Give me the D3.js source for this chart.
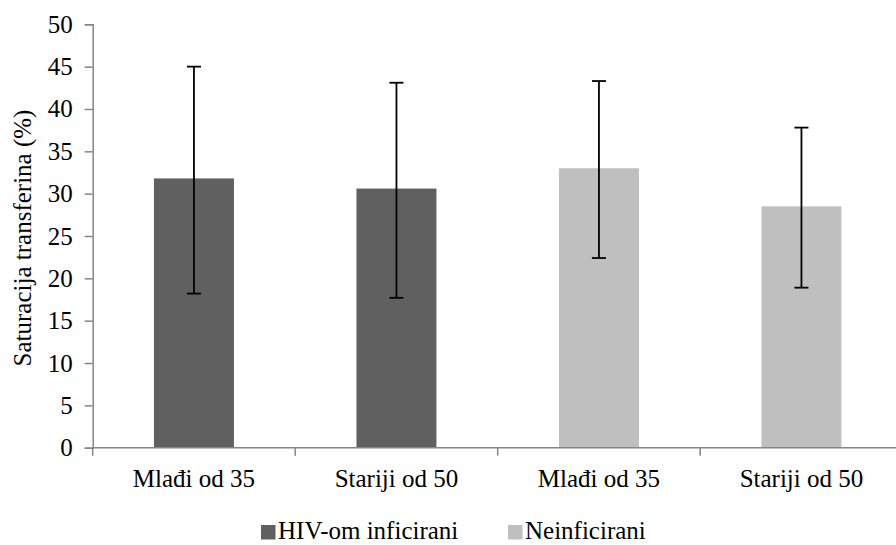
<!DOCTYPE html>
<html>
<head>
<meta charset="utf-8">
<script src="https://cdn.jsdelivr.net/npm/d3@7"></script>
<style>
  html, body { margin: 0; padding: 0; background: #fff; }
  svg { display: block; }
  svg text { font-family: 'Liberation Serif', 'Times New Roman', Times, serif !important; fill: #000; }
</style>
</head>
<body>
<div id="chart"></div>
<script>
// ---- data ----
const categories = ["Mlađi od 35", "Stariji od 50", "Mlađi od 35", "Stariji od 50"];
const groups = ["HIV-om inficirani", "HIV-om inficirani", "Neinficirani", "Neinficirani"];
const means = [31.8, 30.6, 33.0, 28.5];
const errUpper = [45.0, 43.1, 43.3, 37.8];
const errLower = [18.2, 17.7, 22.4, 18.9];
const yTicks = [0, 5, 10, 15, 20, 25, 30, 35, 40, 45, 50];
const legendLabels = ["HIV-om inficirani", "Neinficirani"];
const colors = { "HIV-om inficirani": "#606060", "Neinficirani": "#bfbfbf" };
const yTitle = "Saturacija transferina (%)";

// ---- layout ----
const W = 896, H = 545;
const x0 = 92.7, step = 202.5;
const yTop = 24.3, yBottom = 447.7;
const FS = 25;

const svg = d3.select("#chart").append("svg").attr("width", W).attr("height", H);

const idx = categories.map((d, i) => i);
const pad = 0.605;
const x = d3.scaleBand().domain(idx).range([x0, x0 + step * categories.length])
  .paddingInner(pad).paddingOuter(pad / 2);
const y = d3.scaleLinear().domain([0, 50]).range([yBottom, yTop]);

// bars
svg.append("g").selectAll("rect").data(idx).join("rect")
  .attr("x", i => x(i))
  .attr("width", x.bandwidth())
  .attr("y", i => y(means[i]))
  .attr("height", i => y(0) - y(means[i]))
  .attr("fill", i => colors[groups[i]]);

// y axis
const yAxis = d3.axisLeft(y).tickValues(yTicks).tickSize(8).tickPadding(12);
const gy = svg.append("g").attr("transform", `translate(${x0},0)`).call(yAxis)
  .attr("font-family", null).attr("font-size", null);
gy.select(".domain").attr("stroke", "#868686").attr("stroke-width", 1.5);
gy.selectAll(".tick line").attr("stroke", "#868686").attr("stroke-width", 1.5);
gy.selectAll(".tick text").style("font-size", FS + "px").attr("fill", "#000");

// x axis
const xLeft = x0, xRight = x0 + step * categories.length;
svg.append("line").attr("x1", xLeft).attr("x2", xRight)
  .attr("y1", y(0)).attr("y2", y(0)).attr("stroke", "#868686").attr("stroke-width", 1.5);
const boundaries = idx.map(i => x(i) - x.step() * pad / 2);
svg.append("g").selectAll("line").data(boundaries).join("line")
  .attr("x1", d => d).attr("x2", d => d)
  .attr("y1", y(0)).attr("y2", y(0) + 8)
  .attr("stroke", "#868686").attr("stroke-width", 1.5);
svg.append("g").selectAll("text").data(idx).join("text")
  .attr("x", i => x(i) + x.bandwidth() / 2)
  .attr("y", 487)
  .attr("text-anchor", "middle")
  .style("font-size", FS + "px")
  .text(i => categories[i]);

// error bars
const eb = svg.append("g").attr("stroke", "#000").attr("stroke-width", 1.8);
idx.forEach(i => {
  const cx = x(i) + x.bandwidth() / 2;
  eb.append("line").attr("x1", cx).attr("x2", cx).attr("y1", y(errUpper[i])).attr("y2", y(errLower[i]));
  eb.append("line").attr("x1", cx - 7).attr("x2", cx + 7).attr("y1", y(errUpper[i])).attr("y2", y(errUpper[i]));
  eb.append("line").attr("x1", cx - 7).attr("x2", cx + 7).attr("y1", y(errLower[i])).attr("y2", y(errLower[i]));
});

// y title
svg.append("text")
  .attr("transform", `translate(31,${(yTop + yBottom) / 2 + 2}) rotate(-90)`)
  .attr("text-anchor", "middle")
  .style("font-size", FS + "px")
  .text(yTitle);

// legend
const legX = [261, 508];
const lg = svg.append("g");
legendLabels.forEach((lab, k) => {
  lg.append("rect").attr("x", legX[k]).attr("y", 525).attr("width", 14.5).attr("height", 14.5)
    .attr("fill", colors[lab]);
  lg.append("text").attr("x", legX[k] + 17).attr("y", 538.5).style("font-size", FS + "px").text(lab);
});
</script>
</body>
</html>
